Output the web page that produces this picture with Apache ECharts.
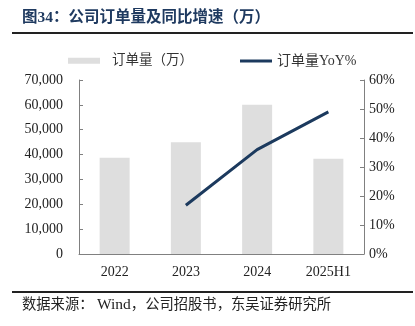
<!DOCTYPE html>
<html><head><meta charset="utf-8">
<script src="https://cdn.jsdelivr.net/npm/echarts@6/dist/echarts.min.js"></script>
<style>html,body{margin:0;padding:0;background:#fff}#c{width:415px;height:326px}</style>
</head><body><div id="c"></div>
<script>
const categories = ['2022', '2023', '2024', '2025H1'];
const orders = [38700, 45000, 60000, 38300];
const yoy = [null, 16.8, 36.0, 49.0];
const leftTicks = { min: 0, max: 70000, interval: 10000 };
const rightTicks = { min: 0, max: 60, interval: 10 };
const titleText = '图34：公司订单量及同比增速（万）';
const sourceParts = ['数据来源： ', 'Wind', '，公司招股书，东吴证券研究所'];
const barName = '订单量（万）';
const lineName = '订单量YoY%';

const serif = '"Liberation Serif", "Noto Sans CJK SC", serif';
const navy = '#1c3a5e';
const chart = echarts.init(document.getElementById('c'), null, { renderer: 'canvas' });
chart.setOption({
  animation: false,
  backgroundColor: '#fff',
  grid: { left: 79, right: 51, top: 80, bottom: 72 },
  legend: [{
    left: 68, top: 54, padding: 0, itemWidth: 32, itemHeight: 6, icon: 'rect',
    textStyle: { fontFamily: serif, fontSize: 13.5, color: '#333', padding: [0, 0, 0, 7] },
    data: [barName]
  }, {
    left: 240, top: 54, padding: 0, itemWidth: 32, itemHeight: 3, icon: 'rect',
    textStyle: { fontFamily: serif, fontSize: 14, color: '#333', padding: [0, 0, 0, 0] },
    data: [lineName]
  }],
  xAxis: {
    type: 'category', data: categories,
    axisLine: { lineStyle: { color: '#808080', width: 1 } },
    axisTick: { inside: true, length: 4, lineStyle: { color: '#808080' } },
    axisLabel: { fontFamily: serif, fontSize: 14, color: '#222', margin: 11 }
  },
  yAxis: [{
    type: 'value', min: leftTicks.min, max: leftTicks.max, interval: leftTicks.interval,
    axisLine: { show: true, lineStyle: { color: '#808080' } },
    axisTick: { show: true, inside: true, length: 4, lineStyle: { color: '#808080' } },
    splitLine: { show: false },
    axisLabel: { fontFamily: serif, fontSize: 14, color: '#222', margin: 16,
      formatter: v => v.toLocaleString('en-US') }
  }, {
    type: 'value', min: rightTicks.min, max: rightTicks.max, interval: rightTicks.interval,
    axisLine: { show: true, lineStyle: { color: '#808080' } },
    axisTick: { show: true, inside: true, length: 4, lineStyle: { color: '#808080' } },
    splitLine: { show: false },
    axisLabel: { fontFamily: serif, fontSize: 14, color: '#222', margin: 5, formatter: '{value}%' }
  }],
  series: [{
    name: barName, type: 'bar', data: orders, barWidth: 30,
    itemStyle: { color: '#dedede' }
  }, {
    name: lineName, type: 'line', yAxisIndex: 1, data: yoy,
    symbol: 'none', lineStyle: { color: navy, width: 3 }, itemStyle: { color: navy }
  }],
  graphic: [
    { type: 'text', left: 22, top: 10, style: { text: titleText, font: 'bold 15.5px ' + serif, fill: '#1f3a60' } },
    { type: 'rect', shape: { x: 12, y: 32, width: 401, height: 2 }, style: { fill: '#222' } },
    { type: 'rect', shape: { x: 12, y: 291, width: 401, height: 2 }, style: { fill: '#222' } },
    { type: 'text', left: 22, top: 297, style: {
      text: '{a|' + sourceParts[0] + '}{w|' + sourceParts[1] + '}{a|' + sourceParts[2] + '}',
      font: '14.3px ' + serif, fill: '#222',
      rich: {
        a: { fontFamily: serif, fontSize: 14.3, fill: '#222' },
        w: { fontFamily: serif, fontSize: 15.5, fill: '#222' }
      }
    } }
  ]
});
</script></body></html>
